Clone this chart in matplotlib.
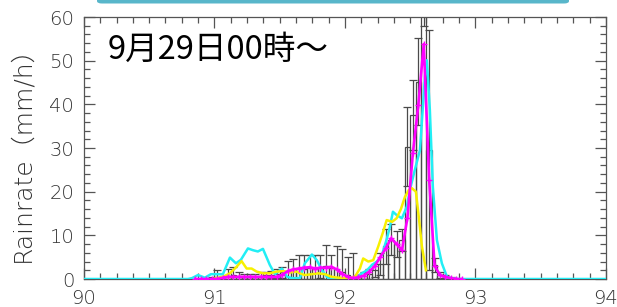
import numpy as np
import matplotlib
matplotlib.use("Agg")
import matplotlib.pyplot as plt
from matplotlib.patches import FancyBboxPatch
from matplotlib.ticker import MultipleLocator

# hourly bins (day of year), bin h covers [90 + h/24, 90 + (h+1)/24)
hours = np.arange(20, 70)
bar_vals = [0, 0, 0, 0.2, 0.5, 0.3, 0.8, 1.0, 0.7, 0.5,
            0.6, 0.5, 0.8, 0.9, 1.0, 1.2, 1.5, 1.8, 2.2, 2.5,
            2.3, 2.6, 2.4, 2.8, 3.0, 2.6, 2.2, 1.6, 1.0, 0.5,
            0.4, 0.8, 1.2, 2.0, 3.5, 7.5, 9.0, 8.0, 9.0, 30.3,
            37.5, 45.2, 66.0, 29.5, 3.2, 0.9, 0.5, 0.2, 0, 0]
bar_err = [0, 0, 0, 0.3, 1.5, 0.5, 1.6, 1.8, 0.8, 0.6,
           0.5, 0.6, 0.7, 0.8, 0.8, 1.0, 1.2, 2.4, 2.4, 3.0,
           3.3, 2.9, 3.1, 2.6, 4.8, 2.8, 5.3, 5.2, 4.0, 5.4,
           0.6, 0.8, 1.2, 1.5, 2.5, 4.0, 3.5, 3.0, 2.5, 9.0,
           8.0, 10.0, 8.0, 27.5, 1.5, 0.6, 0.4, 0.2, 0, 0]

# magenta: values at bin centres
mag_vals = [0, 0, 0, 0, 0, 0.3, 0.5, 0.5, 0.5, 0.5,
            0.5, 0.5, 0.5, 0.5, 0.5, 0.5, 1.0, 1.8, 2.2, 2.4,
            2.6, 2.7, 2.4, 2.6, 2.6, 2.8, 2.2, 1.2, 0.5, 0.2,
            0.4, 0.8, 1.7, 3.0, 5.0, 7.0, 9.3, 8.0, 6.6, 14.0,
            28.8, 39.8, 53.8, 22.7, 3.0, 0.9, 0.5, 0.2, 0, 0]

cyan_t = [90.0, 90.797, 90.828, 90.874, 90.927, 90.973, 91.019, 91.065, 91.119, 91.165,
          91.203, 91.257, 91.295, 91.333, 91.372, 91.425, 91.464, 91.517, 91.556, 91.594,
          91.655, 91.693, 91.747, 91.785, 91.824, 91.862, 91.885, 92.038, 92.092, 92.130,
          92.169, 92.207, 92.245, 92.284, 92.322, 92.345, 92.368, 92.398, 92.437, 92.475,
          92.498, 92.536, 92.575, 92.613, 92.628, 92.651, 92.674, 92.705, 92.743, 92.782,
          92.820, 92.866, 94.0]
cyan_v = [0, 0, 0.2, 0.9, 0.3, 1.1, 1.1, 1.1, 4.9, 3.6,
          4.4, 7.0, 6.6, 6.3, 6.9, 3.2, 1.1, 2.4, 0.5, 0.2,
          0.2, 3.6, 5.6, 4.3, 2.0, 0.5, 0.0, 0.2, 0.5, 1.3,
          2.0, 3.2, 4.0, 5.5, 9.3, 12.0, 15.4, 14.6, 13.9, 16.6,
          20.4, 25.0, 29.5, 46.3, 50.1, 38.7, 21.1, 8.9, 3.6, 0.5,
          0.2, 0, 0]

yel_t = [90.989, 91.065, 91.119, 91.170, 91.208, 91.247, 91.285, 91.323, 91.374, 91.425,
         91.477, 91.527, 91.579, 91.630, 91.655, 91.693, 91.745, 91.795, 91.847, 91.898,
         91.949, 92.025, 92.077, 92.115, 92.140, 92.179, 92.217, 92.255, 92.293, 92.320,
         92.362, 92.396, 92.429, 92.460, 92.490, 92.513, 92.544, 92.567, 92.590, 92.621]
yel_v = [0, 0.5, 1.3, 2.8, 4.1, 2.4, 2.4, 1.7, 1.3, 1.3,
         1.7, 1.8, 1.5, 1.7, 1.3, 0.9, 1.1, 1.3, 1.1, 0.5,
         0.3, 0.2, 0.5, 2.4, 4.7, 4.0, 4.3, 7.4, 10.8, 13.5,
         13.1, 13.9, 16.0, 18.8, 20.4, 20.8, 20.0, 14.0, 7.5, 2.0]

title = "9月29日00時～"
ylabel = "Rainrate（mm/h）"

t_left = 90 + hours / 24.0
t_mid = t_left + 0.5 / 24.0
bar_vals = np.array(bar_vals)
bar_err = np.array(bar_err)
has_err = bar_err > 0

fig = plt.figure(figsize=(6.17, 3.07), dpi=100)
ax = fig.add_axes([0.136, 0.0912, 0.846, 0.8534])

ax.bar(t_left, bar_vals, width=1 / 24.0, align="edge", fill=False,
       edgecolor="#4a4a4a", linewidth=0.9, zorder=2)
ax.errorbar(t_mid[has_err], bar_vals[has_err], yerr=bar_err[has_err], fmt="none",
            ecolor="#4a4a4a", elinewidth=0.9, capsize=3, capthick=0.9, zorder=2)
ax.plot(cyan_t, cyan_v, color="#22eef5", lw=1.8, zorder=3)
ax.plot(yel_t, yel_v, color="#f7f000", lw=1.8, zorder=4)
ax.plot(t_mid, mag_vals, color="#ff00ff", lw=1.9, marker="+", ms=5, mew=1, zorder=5)

ax.set_xlim(90, 94)
ax.set_ylim(0, 60)
ax.xaxis.set_major_locator(MultipleLocator(1))
ax.xaxis.set_minor_locator(MultipleLocator(0.125))
ax.yaxis.set_major_locator(MultipleLocator(10))
ax.yaxis.set_minor_locator(MultipleLocator(2))
ax.tick_params(which="both", direction="in", top=True, right=True, color="#555555",
               labelcolor="#333333", labelsize=14, pad=7)
ax.tick_params(which="major", length=8, width=0.9)
ax.tick_params(which="minor", length=4.3, width=0.9)
for lab in ax.get_xticklabels() + ax.get_yticklabels():
    lab.set_fontweight("light")
for s in ax.spines.values():
    s.set_color("#555555")
    s.set_linewidth(0.9)

ax.set_ylabel(ylabel, fontsize=18, color="#333333", family=["DejaVu Sans", "Noto Sans CJK JP"],
              fontweight="light")
ax.yaxis.set_label_coords(-0.095, 0.5)

ax.text(0.046, 0.874, title, transform=ax.transAxes, fontsize=23.5, ha="left", va="center",
        family=["Noto Sans CJK JP", "DejaVu Sans"], fontweight="normal", color="black")

bar = FancyBboxPatch((97 / 617, 1 - 3.5 / 307), (569 - 97) / 617, 0.05,
                     boxstyle="round,pad=0,rounding_size=0.008", transform=fig.transFigure,
                     facecolor="#58b6ca", edgecolor="none", clip_on=False)
fig.patches.append(bar)

fig.savefig("out.png", dpi=100)
